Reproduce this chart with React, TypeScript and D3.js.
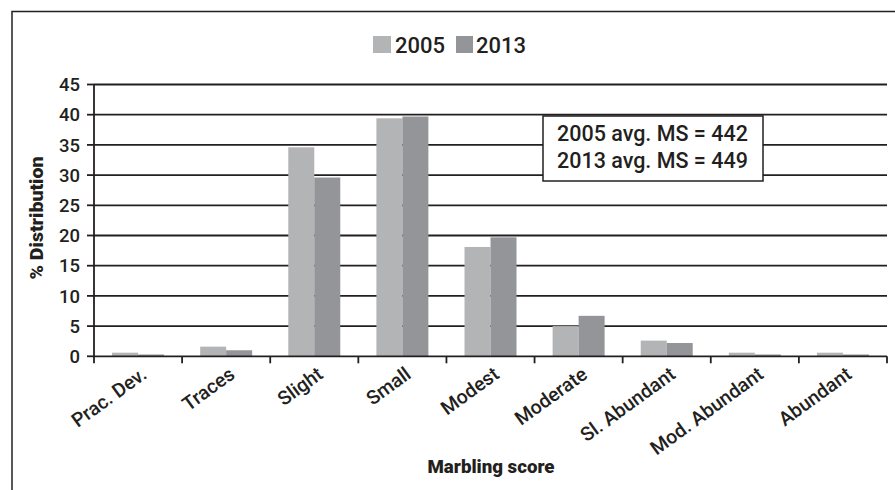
import React from "react";
import * as d3 from "d3";

const categories = ["Prac. Dev.", "Traces", "Slight", "Small", "Modest", "Moderate", "Sl. Abundant", "Mod. Abundant", "Abundant"];
const seriesNames = ["2005", "2013"];
const values2005 = [0.6, 1.6, 34.6, 39.4, 18.1, 5.0, 2.6, 0.6, 0.6];
const values2013 = [0.3, 1.0, 29.6, 39.7, 19.7, 6.7, 2.2, 0.3, 0.3];
const yTicks = [0, 5, 10, 15, 20, 25, 30, 35, 40, 45];
const annotationLines = ["2005 avg. MS = 442", "2013 avg. MS = 449"];
const colors = ["#b3b4b6", "#939598"];

const FONT = "Roboto, 'Open Sans', sans-serif";

export default function App() {
  const W = 895, H = 490;
  const left = 94, right = 887, top = 84.5, bottom = 356.3;
  const x = d3.scaleBand<string>().domain(categories).range([left, right]).padding(0);
  const bw = x.bandwidth();
  const x1 = d3.scaleBand<string>().domain(seriesNames).range([bw * 0.205, bw * 0.795]).padding(0);
  const y = d3.scaleLinear().domain([0, 45]).range([bottom, top]);
  const series = [values2005, values2013];
  const ink = "#231f20";
  const boundaries = categories.map((c) => x(c) as number).concat([right]);

  return (
    <svg width={W} height={H} style={{ position: "absolute", left: 0, top: 0, background: "#fff" }} fontFamily={FONT} fontWeight={500}>
      <rect x={0} y={0} width={W} height={H} fill="#fff" />
      <path d={`M12,${H} V11.5 H${W}`} fill="none" stroke={ink} strokeWidth={1.5} />

      {/* legend */}
      <rect x={373} y={36} width={18} height={17} fill={colors[0]} />
      <text x={395} y={53} fontSize={22} fill={ink}>{seriesNames[0]}</text>
      <rect x={456} y={36} width={17} height={17} fill={colors[1]} />
      <text x={476} y={53} fontSize={22} fill={ink}>{seriesNames[1]}</text>

      {/* gridlines */}
      {yTicks.filter((t) => t > 0).map((t) => (
        <line key={t} x1={left} x2={right} y1={y(t)} y2={y(t)} stroke={ink} strokeWidth={1.8} />
      ))}

      {/* bars */}
      {series.map((vals, si) =>
        vals.map((v, i) => (
          <rect
            key={`${si}-${i}`}
            x={(x(categories[i]) as number) + (x1(seriesNames[si]) as number)}
            y={y(v)}
            width={x1.bandwidth()}
            height={bottom - y(v)}
            fill={colors[si]}
          />
        ))
      )}

      {/* axes */}
      <line x1={left} x2={left} y1={top} y2={bottom} stroke={ink} strokeWidth={1.8} />
      <line x1={left} x2={right} y1={bottom} y2={bottom} stroke={ink} strokeWidth={1.8} />
      {yTicks.map((t) => (
        <g key={t}>
          <line x1={left - 7} x2={left} y1={y(t)} y2={y(t)} stroke={ink} strokeWidth={1.8} />
          <text x={80} y={y(t)} dy="0.36em" textAnchor="end" fontSize={18.5} fill={ink}>{t}</text>
        </g>
      ))}
      {boundaries.map((b, i) => (
        <line key={i} x1={b} x2={b} y1={bottom} y2={bottom + 7} stroke={ink} strokeWidth={1.8} />
      ))}
      {categories.map((c) => {
        const cx = (x(c) as number) + bw / 2 + 10;
        const cy = 377;
        return (
          <text key={c} x={cx} y={cy} textAnchor="end" fontSize={19.5} fill={ink} transform={`rotate(-36 ${cx} ${cy})`}>
            {c}
          </text>
        );
      })}

      {/* annotation */}
      <rect x={543} y={116} width={220} height={65} fill="#fff" stroke={ink} strokeWidth={1.5} />
      {annotationLines.map((l, i) => (
        <text key={i} x={557} y={141 + i * 27} fontSize={21.5} fill={ink}>{l}</text>
      ))}

      {/* titles */}
      <text x={491} y={473} textAnchor="middle" fontSize={19} fontWeight={900} fill={ink} textLength={127} lengthAdjust="spacingAndGlyphs">Marbling score</text>
      <text x={0} y={0} textAnchor="middle" fontSize={18} fontWeight={900} fill={ink} transform={`translate(43,218) rotate(-90)`} textLength={123} lengthAdjust="spacingAndGlyphs">% Distribution</text>
    </svg>
  );
}
